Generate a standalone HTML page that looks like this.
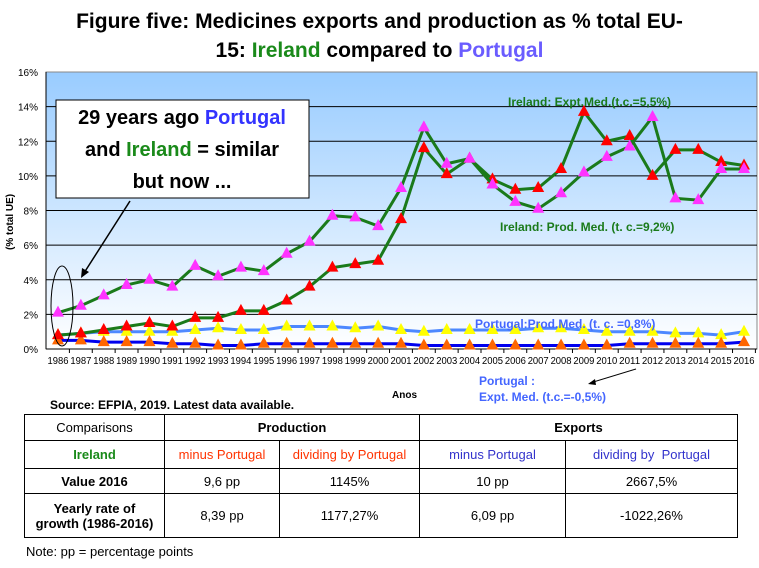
<!DOCTYPE html>
<html><head><meta charset="utf-8"><style>
body{margin:0;width:759px;height:568px;background:#fff;overflow:hidden;font-family:"Liberation Sans",sans-serif;position:relative}
.t{position:absolute;left:0;width:759px;text-align:center;font-weight:bold;font-size:21px;line-height:29px}
table{position:absolute;left:24px;top:414px;border-collapse:collapse;font-size:13px;font-family:"Liberation Sans Narrow","Liberation Sans",sans-serif}
td{border:1px solid #000;text-align:center;padding:0}
</style></head><body>
<div class="t" style="top:7px">Figure five: Medicines exports and production as % total EU-<br>15: <span style="color:#1a8a1a">Ireland</span> compared to <span style="color:#6a5cff">Portugal</span></div>
<svg id="c" width="759" height="568" style="position:absolute;left:0;top:0">
<defs><linearGradient id="g" x1="0" y1="0" x2="0" y2="1"><stop offset="0" stop-color="#99ccff"/><stop offset="1" stop-color="#ffffff"/></linearGradient></defs>
</svg>
<table>
<tr style="height:26px"><td style="width:139px">Comparisons</td><td colspan="2" style="font-weight:bold">Production</td><td colspan="2" style="font-weight:bold">Exports</td></tr>
<tr style="height:28px"><td style="color:#1a8a1a;font-weight:bold">Ireland</td><td style="width:114px;color:#ff3300">minus Portugal</td><td style="width:139px;color:#ff3300">dividing by Portugal</td><td style="width:145px;color:#3333cc">minus Portugal</td><td style="width:171px;color:#3333cc">dividing by&nbsp; Portugal</td></tr>
<tr style="height:25px"><td style="font-weight:bold">Value 2016</td><td>9,6 pp</td><td>1145%</td><td>10 pp</td><td>2667,5%</td></tr>
<tr style="height:44px"><td style="font-weight:bold">Yearly rate of<br>growth (1986-2016)</td><td>8,39 pp</td><td>1177,27%</td><td>6,09 pp</td><td>-1022,26%</td></tr>
</table>
<div style="position:absolute;left:26px;top:544px;font-size:13px;font-family:'Liberation Sans Narrow','Liberation Sans',sans-serif">Note: pp = percentage points</div>
<div style="position:absolute;left:50px;top:398px;font-size:12px;font-weight:bold">Source: EFPIA, 2019. Latest data available.</div>
<script>
const years=[1986,1987,1988,1989,1990,1991,1992,1993,1994,1995,1996,1997,1998,1999,2000,2001,2002,2003,2004,2005,2006,2007,2008,2009,2010,2011,2012,2013,2014,2015,2016];
const irlMagenta=[2.1,2.5,3.1,3.7,4.0,3.6,4.8,4.2,4.7,4.5,5.5,6.2,7.7,7.6,7.1,9.3,12.8,10.7,11.0,9.5,8.5,8.1,9.0,10.2,11.1,11.7,13.4,8.7,8.6,10.4,10.4];
const irlRed=[0.8,0.9,1.1,1.3,1.5,1.3,1.8,1.8,2.2,2.2,2.8,3.6,4.7,4.9,5.1,7.5,11.6,10.1,11.0,9.8,9.2,9.3,10.4,13.7,12.0,12.3,10.0,11.5,11.5,10.8,10.6];
const ptProd=[0.8,0.9,1.0,1.0,1.0,1.0,1.1,1.2,1.1,1.1,1.3,1.3,1.3,1.2,1.3,1.1,1.0,1.1,1.1,1.1,1.1,1.2,1.2,1.1,1.0,1.0,1.0,0.9,0.9,0.8,1.0];
const ptExp=[0.5,0.5,0.4,0.4,0.4,0.3,0.3,0.2,0.2,0.3,0.3,0.3,0.3,0.3,0.3,0.3,0.2,0.2,0.2,0.2,0.2,0.2,0.2,0.2,0.2,0.3,0.3,0.3,0.3,0.3,0.4];
const yTicks=[0,2,4,6,8,10,12,14,16];
const svg=document.getElementById('c'),NS='http://www.w3.org/2000/svg';
const X0=46,X1=757,Y0=349,Y1=72;
const xs=i=>58+i*(744-58)/(years.length-1);
const ys=v=>Y0-(v/16)*(Y0-Y1);
function mk(t,a,p){const e=document.createElementNS(NS,t);for(const k in a)e.setAttribute(k,a[k]);(p||svg).appendChild(e);return e;}
const bg=mk('rect',{x:X0,y:Y1,width:X1-X0,height:Y0-Y1,fill:'url(#g)',stroke:'#888'});


yTicks.forEach(v=>{
 const l=mk('line',{x1:X0,x2:X1,y1:ys(v),y2:ys(v),stroke:v==16?'#888':'#000','stroke-width':1});
 
 
 const t=mk('text',{x:38,y:ys(v)+4,'text-anchor':'end','font-size':10,'font-family':'Liberation Sans Narrow, Liberation Sans, sans-serif'});
 t.textContent=v+'%';
 
 
});
mk('line',{x1:X0,x2:X0,y1:Y1,y2:Y0,stroke:'#000'});
years.forEach((y,i)=>{
 mk('line',{x1:xs(i)+11.4,x2:xs(i)+11.4,y1:Y0,y2:Y0+4,stroke:'#000'});
 const t=mk('text',{x:xs(i),y:Y0+15,'text-anchor':'middle','font-size':10,'font-family':'Liberation Sans Narrow, Liberation Sans, sans-serif',textLength:21,lengthAdjust:'spacingAndGlyphs'});
 t.textContent=y;
 
 
});
function series(d,lc,mc,name,w){
 const p=mk('polyline',{points:d.map((v,i)=>xs(i)+','+ys(v)).join(' '),fill:'none',stroke:lc,'stroke-width':w});
 
 
 d.forEach((v,i)=>{const x=xs(i),y=ys(v);
  const m=mk('polygon',{points:`${x},${y-7} ${x-6},${y+4} ${x+6},${y+4}`,fill:mc});
  
  });
}
series(ptProd,'#4d88ff','#ffff00','portugal-production',3);
series(ptExp,'#0000ee','#ff6600','portugal-exports',3);
series(irlRed,'#1a7a1a','#ff0000','ireland-red',3);
series(irlMagenta,'#1a7a1a','#ff33ff','ireland-magenta',3);
function lab(x,y,s,c,name,sz){const t=mk('text',{x:x,y:y,fill:c,'font-size':sz||12,'font-weight':'bold','font-family':'Liberation Sans Narrow, Liberation Sans, sans-serif'});t.textContent=s;
 
 }
lab(508,106,'Ireland: Expt.Med.(t.c.=5,5%)','#1a7a1a','ireland-export-label');
lab(500,231,'Ireland: Prod. Med. (t. c.=9,2%)','#1a7a1a','ireland-production-label');
lab(475,328,'Portugal:Prod.Med. (t. c. =0,8%)','#4466ff','portugal-production-label');
lab(479,385,'Portugal :','#4466ff','portugal-export-label');
lab(479,401,'Expt. Med.  (t.c.=-0,5%)','#4466ff','portugal-export-label-2');
lab(392,398,'Anos','#000','x-axis-title',10);
const yt=mk('text',{x:0,y:0,'font-size':10,'font-weight':'bold',transform:'translate(13,250) rotate(-90)'});yt.textContent='(% total UE)';


// annotation
mk('line',{x1:130,y1:201,x2:84,y2:273,stroke:'#000','stroke-width':1.5});
mk('polygon',{points:'81,278 82,268 89,272',fill:'#000'});
mk('ellipse',{cx:62,cy:306,rx:11,ry:40,fill:'none',stroke:'#000'});
mk('line',{x1:636,y1:369,x2:590,y2:383,stroke:'#000'});
mk('polygon',{points:'588,384 595,379 596,385',fill:'#000'});
const box=mk('rect',{x:56,y:100,width:253,height:98,fill:'#fff',stroke:'#000'});


[['29 years ago ',['Portugal','#3333ff'],126],['and ',['Ireland','#1a8a1a'],158,' = similar'],['but now ...',null,190]].forEach(r=>{
 const t=mk('text',{x:182,y:r[2]-2,'text-anchor':'middle','font-size':20,'font-weight':'bold'});
 
 
 const a=mk('tspan',{},t);a.textContent=r[0];
 if(r[1]){const b=mk('tspan',{fill:r[1][1]},t);b.textContent=r[1][0];}
 if(r[3]){const c=mk('tspan',{},t);c.textContent=r[3];}
});
</script>
</body></html>
